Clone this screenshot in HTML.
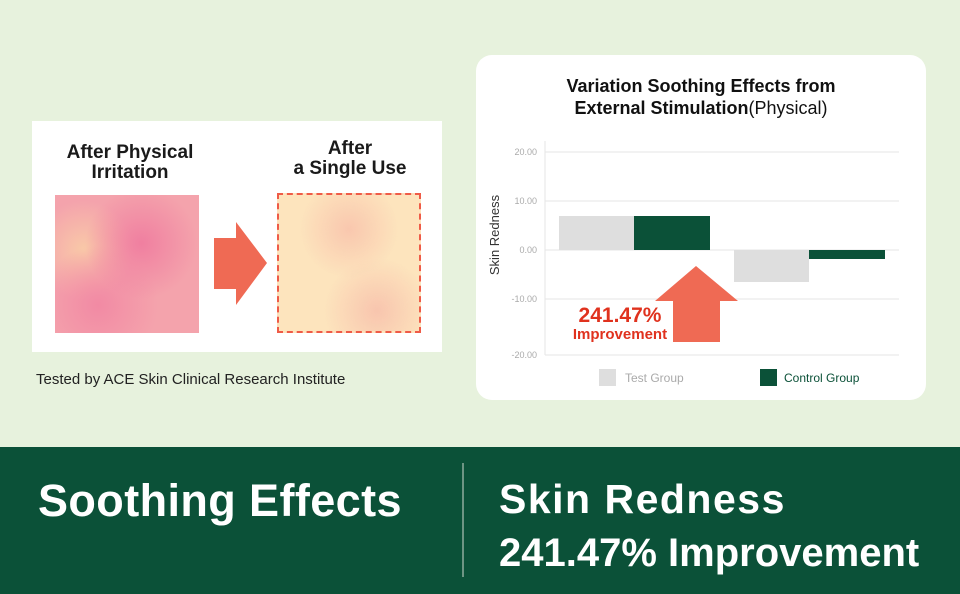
<!DOCTYPE html>
<html><head><style>
body{margin:0;width:960px;height:594px;background:#e7f2dd;position:relative;overflow:hidden;font-family:"Liberation Sans",sans-serif}
.a{position:absolute}
</style></head><body>
<div class="a" style="left:32px;top:121px;width:410px;height:231px;background:#fff"></div>
<div class="a" style="left:40px;top:143px;width:180px;text-align:center;font-size:19px;font-weight:bold;line-height:20px;color:#1a1a1a">After Physical<br>Irritation</div>
<div class="a" style="left:260px;top:139px;width:180px;text-align:center;font-size:19px;font-weight:bold;line-height:20px;color:#1a1a1a">After<br>a Single Use</div>
<div class="a" style="left:55px;top:195px;width:144px;height:138px;background:radial-gradient(circle at 60% 35%,#f07fa0 0,transparent 45%),radial-gradient(circle at 30% 80%,#f28aa4 0,transparent 40%),radial-gradient(circle at 20% 40%,#f9c9a8 0,transparent 35%),#f4a3ac"></div>
<svg class="a" style="left:214px;top:222px" width="54" height="84"><polygon points="0,16 22,16 22,0 53,41 22,83 22,67 0,67" fill="#ef6a54"/></svg>
<div class="a" style="left:277px;top:193px;width:140px;height:136px;border:2px dashed #ef5b47;background:radial-gradient(circle at 50% 25%,#f9c7ae 0,transparent 40%),radial-gradient(circle at 70% 85%,#f8c5ae 0,transparent 35%),#fde4bd"></div>
<div class="a" style="left:36px;top:371px;font-size:15px;color:#222">Tested by ACE Skin Clinical Research Institute</div>

<div class="a" style="left:476px;top:55px;width:450px;height:345px;background:#fff;border-radius:16px"></div>
<div class="a" style="left:476px;top:75px;width:410px;text-align:center;font-size:18px;font-weight:bold;line-height:22px;color:#111;padding-left:20px">Variation Soothing Effects from<br>External Stimulation<span style="font-weight:normal">(Physical)</span></div>
<svg class="a" style="left:476px;top:55px" width="450" height="345" font-family="Liberation Sans, sans-serif">
<g stroke="#e6e6e6" stroke-width="1"><line x1="69" y1="97" x2="423" y2="97"/><line x1="69" y1="146" x2="423" y2="146"/><line x1="69" y1="195" x2="423" y2="195"/><line x1="69" y1="244" x2="423" y2="244"/><line x1="69" y1="300" x2="423" y2="300"/><line x1="69" y1="86" x2="69" y2="300"/></g>
<g font-size="9" fill="#aaa" text-anchor="end"><text x="61" y="100">20.00</text><text x="61" y="149">10.00</text><text x="61" y="198">0.00</text><text x="61" y="247">-10.00</text><text x="61" y="303">-20.00</text></g>
<text transform="translate(23,180) rotate(-90)" text-anchor="middle" font-size="13" fill="#333">Skin Redness</text>
<rect x="83" y="161" width="75" height="34" fill="#dedede"/><rect x="158" y="161" width="76" height="34" fill="#0b5138"/>
<rect x="258" y="195" width="75" height="32" fill="#dedede"/><rect x="333" y="195" width="76" height="9" fill="#0b5138"/>
<polygon points="220,211 262,246 244,246 244,287 197,287 197,246 179,246" fill="#ef6a54"/>
<text x="144" y="267" text-anchor="middle" font-size="21" font-weight="bold" fill="#e0321e">241.47%</text>
<text x="144" y="284" text-anchor="middle" font-size="15" font-weight="bold" fill="#e0321e">Improvement</text>
<rect x="123" y="314" width="17" height="17" fill="#dedede"/><text x="149" y="327" font-size="12" fill="#aaa">Test Group</text>
<rect x="284" y="314" width="17" height="17" fill="#0b5138"/><text x="308" y="327" font-size="12" fill="#0b5138">Control Group</text>
</svg>

<div class="a" style="left:0;top:447px;width:960px;height:147px;background:#0b5138"></div>
<div class="a" style="left:462px;top:463px;width:2px;height:114px;background:#6e9584"></div>
<div class="a" style="left:38px;top:475px;font-size:45px;font-weight:bold;color:#fff;white-space:nowrap;letter-spacing:0.4px">Soothing Effects</div>
<div class="a" style="left:499px;top:473px;font-size:40px;font-weight:bold;color:#fff;line-height:53px;white-space:nowrap"><span style="letter-spacing:1.5px;font-size:41px">Skin Redness</span><br>241.47% Improvement</div>
</body></html>
